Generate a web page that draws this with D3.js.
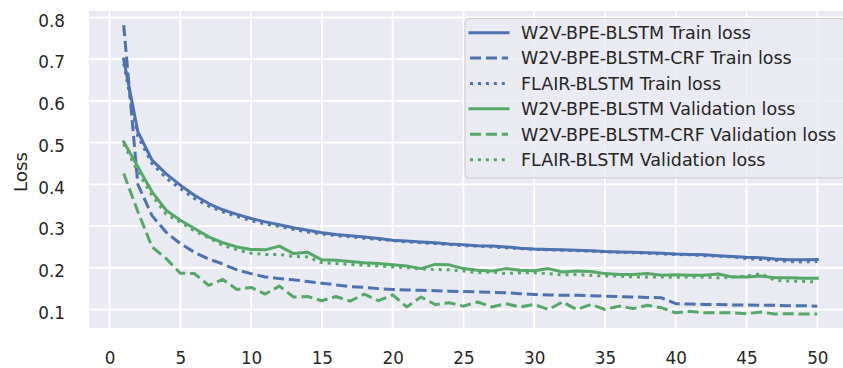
<!DOCTYPE html>
<html><head><meta charset="utf-8">
<script src="https://cdn.jsdelivr.net/npm/d3@7"></script>
<style>body{margin:0;background:#fff}svg{display:block}text{font-family:"DejaVu Sans",sans-serif;fill:#262626}</style>
</head><body><svg id="c" width="843" height="368"></svg>
<script>
const epochs = [1,2,3,4,5,6,7,8,9,10,11,12,13,14,15,16,17,18,19,20,21,22,23,24,25,26,27,28,29,30,31,32,33,34,35,36,37,38,39,40,41,42,43,44,45,46,47,48,49,50];
const w2vTrain = [0.700,0.526,0.458,0.425,0.398,0.374,0.354,0.339,0.328,0.318,0.310,0.303,0.296,0.290,0.284,0.280,0.277,0.274,0.270,0.266,0.264,0.262,0.260,0.257,0.255,0.253,0.252,0.250,0.247,0.245,0.244,0.243,0.242,0.241,0.239,0.238,0.237,0.236,0.235,0.233,0.232,0.231,0.229,0.227,0.225,0.224,0.221,0.219,0.219,0.220];
const crfTrain = [0.782,0.400,0.325,0.285,0.258,0.237,0.221,0.209,0.195,0.186,0.178,0.174,0.171,0.167,0.163,0.159,0.155,0.153,0.150,0.148,0.147,0.146,0.145,0.144,0.143,0.142,0.141,0.140,0.138,0.136,0.135,0.134,0.134,0.133,0.132,0.131,0.130,0.129,0.128,0.114,0.113,0.112,0.112,0.111,0.111,0.110,0.110,0.109,0.109,0.108];
const flairTrain = [0.690,0.515,0.450,0.415,0.390,0.366,0.348,0.334,0.323,0.313,0.305,0.299,0.292,0.286,0.281,0.277,0.274,0.271,0.268,0.265,0.262,0.260,0.258,0.256,0.253,0.252,0.250,0.248,0.246,0.244,0.243,0.242,0.241,0.240,0.238,0.237,0.236,0.235,0.233,0.232,0.231,0.229,0.228,0.226,0.222,0.220,0.218,0.215,0.214,0.215];
const w2vVal = [0.502,0.442,0.382,0.338,0.314,0.294,0.274,0.260,0.250,0.244,0.243,0.252,0.234,0.237,0.219,0.218,0.215,0.212,0.210,0.207,0.204,0.198,0.208,0.207,0.198,0.194,0.192,0.198,0.194,0.193,0.198,0.190,0.192,0.191,0.186,0.184,0.184,0.186,0.182,0.183,0.182,0.182,0.185,0.178,0.178,0.180,0.176,0.176,0.175,0.175];
const crfVal = [0.426,0.335,0.250,0.222,0.187,0.186,0.158,0.172,0.148,0.153,0.137,0.156,0.130,0.131,0.121,0.131,0.120,0.137,0.121,0.135,0.106,0.130,0.112,0.116,0.108,0.118,0.106,0.114,0.106,0.112,0.100,0.118,0.100,0.112,0.100,0.108,0.102,0.110,0.104,0.092,0.096,0.092,0.092,0.092,0.090,0.094,0.089,0.090,0.089,0.089];
const flairVal = [0.497,0.430,0.374,0.328,0.310,0.288,0.272,0.254,0.243,0.235,0.232,0.232,0.227,0.226,0.212,0.210,0.208,0.206,0.204,0.202,0.200,0.197,0.196,0.195,0.192,0.188,0.190,0.186,0.188,0.188,0.186,0.183,0.184,0.182,0.180,0.180,0.178,0.178,0.178,0.177,0.178,0.178,0.176,0.178,0.180,0.186,0.170,0.168,0.167,0.166];
const seriesNames = ["W2V-BPE-BLSTM Train loss","W2V-BPE-BLSTM-CRF Train loss","FLAIR-BLSTM Train loss","W2V-BPE-BLSTM Validation loss","W2V-BPE-BLSTM-CRF Validation loss","FLAIR-BLSTM Validation loss"];
const xTicks = [0,5,10,15,20,25,30,35,40,45,50];
const yTicks = [0.1,0.2,0.3,0.4,0.5,0.6,0.7,0.8];
const yLabel = "Loss";

const blue = "#4c72b0", green = "#55a868";
const LW = 3;
const styles = [
  {c: blue, dash: null}, {c: blue, dash: `${3.7*LW},${1.6*LW}`}, {c: blue, dash: `${1*LW},${1.65*LW}`},
  {c: green, dash: null}, {c: green, dash: `${3.7*LW},${1.6*LW}`}, {c: green, dash: `${1*LW},${1.65*LW}`}
];
const data = [w2vTrain, crfTrain, flairTrain, w2vVal, crfVal, flairVal];

const svg = d3.select("#c");
const L = 89, T = 11, B = 328, R = 852;
const x = d3.scaleLinear().domain([-1.45, 52.45]).range([L, R]);
const y = d3.scaleLinear().domain([0.0556, 0.8156]).range([B, T]);

svg.append("defs").append("clipPath").attr("id","clip").append("rect")
  .attr("x", L).attr("y", T).attr("width", R-L).attr("height", B-T);
svg.append("rect").attr("x", L).attr("y", T).attr("width", R-L).attr("height", B-T).attr("fill", "#eaeaf2");

// grid
const g = svg.append("g");
g.selectAll(".vg").data(xTicks).join("line")
  .attr("x1", d=>x(d)).attr("x2", d=>x(d)).attr("y1", T).attr("y2", B)
  .attr("stroke", "#fff").attr("stroke-width", 1.8);
g.selectAll(".hg").data(yTicks).join("line")
  .attr("y1", d=>y(d)).attr("y2", d=>y(d)).attr("x1", L).attr("x2", R)
  .attr("stroke", "#fff").attr("stroke-width", 1.8);

// tick labels via axes without lines
const xAxis = svg.append("g").attr("transform", `translate(0,${B})`)
  .call(d3.axisBottom(x).tickValues(xTicks).tickSize(0).tickPadding(0).tickFormat(d3.format("d")));
xAxis.select(".domain").remove();
xAxis.selectAll("text").attr("y", 35.5).attr("dy", 0).style("font-size", "16.8px").attr("fill", "#262626").style("font-family", "DejaVu Sans");
const yAxis = svg.append("g").attr("transform", `translate(${L},0)`)
  .call(d3.axisLeft(y).tickValues(yTicks).tickSize(0).tickPadding(0).tickFormat(d3.format(".1f")));
yAxis.select(".domain").remove();
yAxis.selectAll("text").attr("x", -24).attr("dy", "0.52em").style("font-size", "16.8px").attr("fill", "#262626").style("font-family", "DejaVu Sans");

svg.append("text").attr("transform", "translate(27,172) rotate(-90)")
  .attr("text-anchor", "middle").style("font-size", "18.3px").text(yLabel);

// lines
const line = d3.line().x((d,i)=>x(epochs[i])).y(d=>y(d));
const lg = svg.append("g").attr("clip-path", "url(#clip)");
data.forEach((arr, k) => {
  const s = styles[k];
  lg.append("path").attr("d", line(arr)).attr("fill", "none").attr("stroke", s.c)
    .attr("stroke-width", LW).attr("stroke-linejoin", "round")
    .attr("stroke-linecap", s.dash ? "butt" : "square")
    .attr("stroke-dasharray", s.dash);
});

// legend
const leg = svg.append("g");
leg.append("rect").attr("x", 465).attr("y", 18.5).attr("width", 380).attr("height", 159.5)
  .attr("rx", 4).attr("fill", "rgba(234,234,242,0.8)").attr("stroke", "#cccccc").attr("stroke-width", 1);
const rowY = [32.7, 58.0, 83.4, 108.8, 134.3, 159.7];
seriesNames.forEach((name, k) => {
  const s = styles[k];
  leg.append("line").attr("x1", 470).attr("x2", 508).attr("y1", rowY[k]).attr("y2", rowY[k])
    .attr("stroke", s.c).attr("stroke-width", LW).attr("stroke-dasharray", s.dash)
    .attr("stroke-linecap", s.dash ? "butt" : "square");
  leg.append("text").attr("x", 521).attr("y", rowY[k]).attr("dy", "0.36em")
    .style("font-size", "17.5px").text(name);
});
</script></body></html>
